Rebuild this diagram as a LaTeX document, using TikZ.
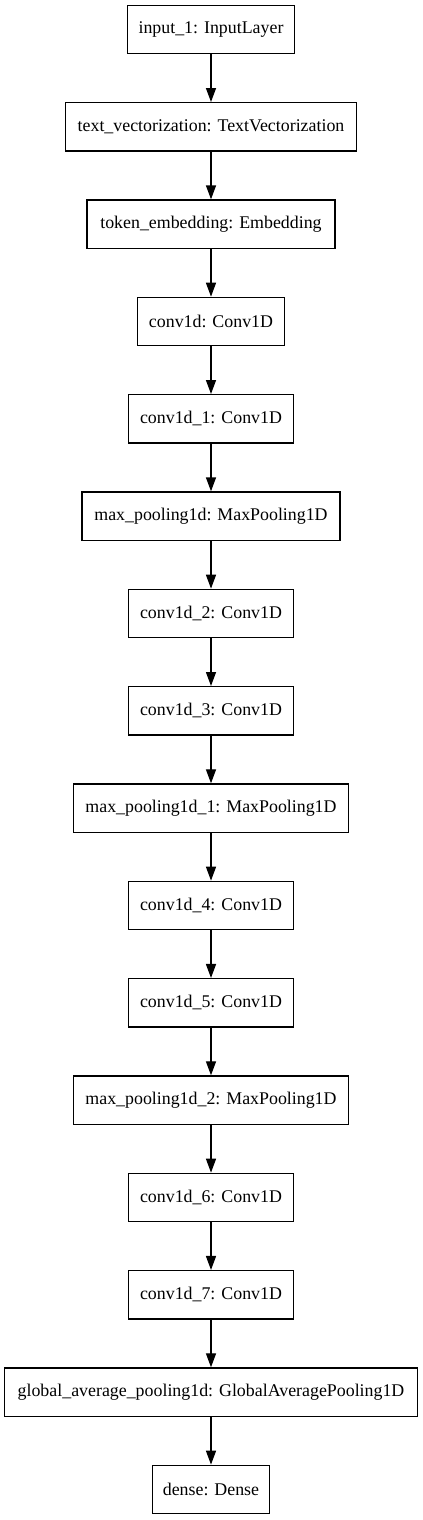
\documentclass[tikz,border=0pt]{standalone}
\usepackage{fontspec}
\setmainfont{Liberation Serif}
\usetikzlibrary{arrows.meta}
\begin{document}
\begin{tikzpicture}[x=0.75pt,y=-0.75pt,
  layer/.style={draw=black, line width=1pt, fill=white, rectangle, inner sep=0pt,
    minimum height=48.3*0.75pt, font=\fontsize{13.4pt}{16pt}\selectfont},
  conn/.style={line width=1pt, -{Triangle[length=10.5pt,width=7.5pt]}}]
\useasboundingbox (0,0) rectangle (423,1520);
\def\cx{211}
\node[layer, minimum width=167*0.75pt] (n0) at (\cx,29.5+97.33*0) {input\_1: InputLayer};
\node[layer, minimum width=291*0.75pt] (n1) at (\cx,29.5+97.33*1) {text\_vectorization: TextVectorization};
\node[layer, minimum width=247.7*0.75pt] (n2) at (\cx,29.5+97.33*2) {token\_embedding: Embedding};
\node[layer, minimum width=146.6*0.75pt] (n3) at (\cx,29.5+97.33*3) {conv1d: Conv1D};
\node[layer, minimum width=164.5*0.75pt] (n4) at (\cx,29.5+97.33*4) {conv1d\_1: Conv1D};
\node[layer, minimum width=258*0.75pt] (n5) at (\cx,29.5+97.33*5) {max\_pooling1d: MaxPooling1D};
\node[layer, minimum width=164.5*0.75pt] (n6) at (\cx,29.5+97.33*6) {conv1d\_2: Conv1D};
\node[layer, minimum width=164.5*0.75pt] (n7) at (\cx,29.5+97.33*7) {conv1d\_3: Conv1D};
\node[layer, minimum width=275.5*0.75pt] (n8) at (\cx,29.5+97.33*8) {max\_pooling1d\_1: MaxPooling1D};
\node[layer, minimum width=164.5*0.75pt] (n9) at (\cx,29.5+97.33*9) {conv1d\_4: Conv1D};
\node[layer, minimum width=164.5*0.75pt] (n10) at (\cx,29.5+97.33*10) {conv1d\_5: Conv1D};
\node[layer, minimum width=275.5*0.75pt] (n11) at (\cx,29.5+97.33*11) {max\_pooling1d\_2: MaxPooling1D};
\node[layer, minimum width=164.5*0.75pt] (n12) at (\cx,29.5+97.33*12) {conv1d\_6: Conv1D};
\node[layer, minimum width=164.5*0.75pt] (n13) at (\cx,29.5+97.33*13) {conv1d\_7: Conv1D};
\node[layer, minimum width=413*0.75pt] (n14) at (\cx,29.5+97.33*14) {global\_average\_pooling1d: GlobalAveragePooling1D};
\node[layer, minimum width=117.6*0.75pt] (n15) at (\cx,29.5+97.33*15) {dense: Dense};
\foreach \a/\b in {n0/n1,n1/n2,n2/n3,n3/n4,n4/n5,n5/n6,n6/n7,n7/n8,n8/n9,n9/n10,n10/n11,n11/n12,n12/n13,n13/n14,n14/n15}
  \draw[conn] (\a.south) -- (\b.north);
\end{tikzpicture}
\end{document}
